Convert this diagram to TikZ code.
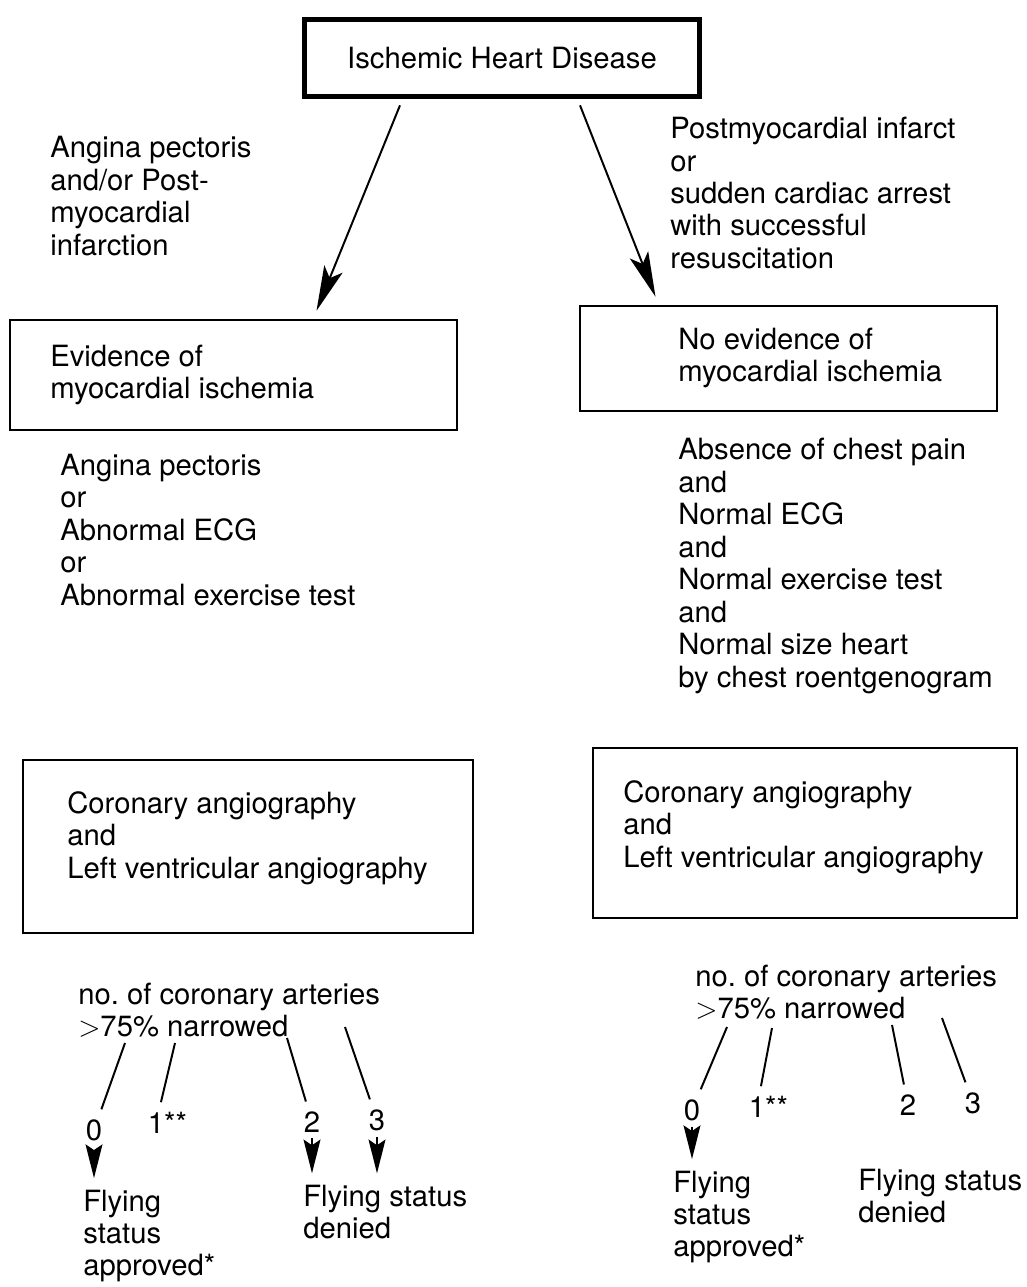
\documentclass[tikz,border=0pt]{standalone}
\usepackage{fontspec}
\setmainfont{TeX Gyre Heros}
\usetikzlibrary{arrows.meta,calc}
\newlength\pxl
\setlength\pxl{0.025cm}

\begin{document}
\begin{tikzpicture}[x=0.025cm, y=-0.025cm,
  every node/.style={font=\fontsize{20.8}{23.1}\selectfont, inner sep=0pt},
  frame/.style={draw, line width=1.8pt},
  topframe/.style={draw, line width=4pt},
  txt/.style={anchor=west, align=left},
  num/.style={inner sep=7pt},
  link/.style={line width=1.4pt},
  bigarrow/.style={line width=1.4pt, -{Stealth[length=32pt,width=14pt,inset=7pt]}},
  smallarrow/.style={line width=1.4pt, -{Stealth[length=24pt,width=12pt,inset=4pt]}, shorten <=-3pt, shorten >=8pt}]

\useasboundingbox (0,0) rectangle (1026,1287);

% Top box
\node[topframe, minimum width=395\pxl, minimum height=77\pxl] (ihd) at (502,58) {Ischemic Heart Disease};

% The two branches
\node[txt] (branchL) at (50,196) {Angina pectoris\\and/or Post-\\myocardial\\infarction};
\node[txt] (branchR) at (670,193) {Postmyocardial infarct\\or\\sudden cardiac arrest\\with successful\\resuscitation};

% Evidence boxes
\node[frame, minimum width=447\pxl, minimum height=110\pxl] (evid) at (233.5,375) {};
\node[txt] (evidtxt) at (50,375) {Evidence of\\myocardial ischemia};
\node[frame, minimum width=417\pxl, minimum height=105\pxl] (noevid) at (788.5,358.5) {};
\node[txt] (noevidtxt) at (678,358) {No evidence of\\myocardial ischemia};

\draw[bigarrow] ($(ihd.south)+(-102,6)$) -- ($(evid.north)+(83,-8)$);
\draw[bigarrow] ($(ihd.south)+(78,6)$) -- ($(noevid.north)+(-133,-8)$);

% Criteria
\node[txt] (critL) at (60,530) {Angina pectoris\\or\\Abnormal ECG\\or\\Abnormal exercise test};
\node[txt] (critR) at (678,566) {Absence of chest pain\\and\\Normal ECG\\and\\Normal exercise test\\and\\Normal size heart\\by chest roentgenogram};

% Angiography boxes
\node[frame, minimum width=450\pxl, minimum height=173\pxl] (angioL) at (248,846.5) {};
\node[txt] (angioLtxt) at (67,838) {Coronary angiography\\and\\Left ventricular angiography};
\node[frame, minimum width=424\pxl, minimum height=170\pxl] (angioR) at (805,833) {};
\node[txt] (angioRtxt) at (623,827) {Coronary angiography\\and\\Left ventricular angiography};

% Left outcome
\node[txt] (countL) at (78,1010) {no.\ of coronary arteries\\$>$75\% narrowed};
\node[num] (nL0) at (94,1130) {0};
\node[num] (nL1) at (156,1123) {1\rlap{**}};
\node[num] (nL2) at (312,1122) {2};
\node[num] (nL3) at (377,1120) {3};
\coordinate (tL0) at (125,1043);
\coordinate (tL1) at (175,1043);
\coordinate (tL2) at (287,1038);
\coordinate (tL3) at (345,1027);
\draw[link] (tL0) -- (nL0);
\draw[link] (tL1) -- (nL1);
\draw[link] (tL2) -- (nL2);
\draw[link] (tL3) -- (nL3);
\node[txt] (okL) at (83,1236) {Flying\\status\\approved*};
\node[txt] (denyL) at (303,1212) {Flying status\\denied};
\draw[smallarrow] (nL0.south) -- (nL0.south |- okL.north);
\draw[smallarrow] (nL2.south) -- (nL2.south |- denyL.north);
\draw[smallarrow] (nL3.south) -- (nL3.south |- denyL.north);

% Right outcome
\node[txt] (countR) at (695,992) {no.\ of coronary arteries\\$>$75\% narrowed};
\node[num] (nR0) at (692,1110) {0};
\node[num] (nR1) at (757,1107) {1\rlap{**}};
\node[num] (nR2) at (908,1105) {2};
\node[num] (nR3) at (973,1103) {3};
\coordinate (tR0) at (727,1027);
\coordinate (tR1) at (772,1028);
\coordinate (tR2) at (892,1025);
\coordinate (tR3) at (942,1018);
\draw[link] (tR0) -- (nR0);
\draw[link] (tR1) -- (nR1);
\draw[link] (tR2) -- (nR2);
\draw[link] (tR3) -- (nR3);
\node[txt] (okR) at (673,1217) {Flying\\status\\approved*};
\node[txt] (denyR) at (858,1196) {Flying status\\denied};
\draw[smallarrow] (nR0.south) -- (nR0.south |- okR.north);
\end{tikzpicture}
\end{document}
